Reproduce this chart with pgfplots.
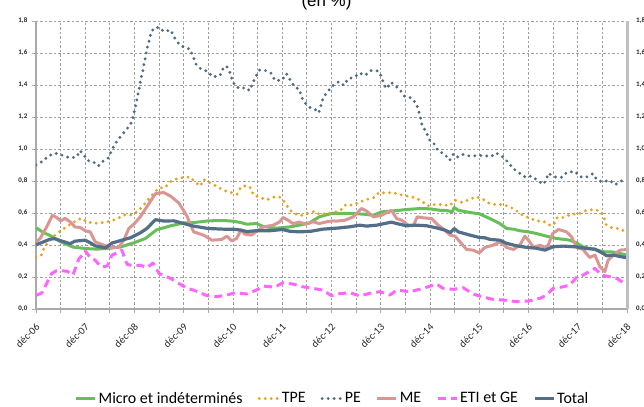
\documentclass[border=0pt]{standalone}
\usepackage{fontspec}
\setmainfont{Carlito}
\newfontfamily\arialfont{Liberation Sans}
\usepackage{pgfplots}
\pgfplotsset{compat=1.18}
\definecolor{cmicro}{RGB}{102,191,90}
\definecolor{ctpe}{RGB}{230,162,32}
\definecolor{cpe}{RGB}{76,108,132}
\definecolor{cme}{RGB}{217,150,146}
\definecolor{ceti}{RGB}{255,102,255}
\definecolor{ctotal}{RGB}{82,110,136}
\definecolor{cgrid}{RGB}{160,160,160}
\definecolor{caxis}{RGB}{170,170,170}
\begin{document}
\begin{tikzpicture}
\path[use as bounding box] (-36bp,-98bp) rectangle (608bp,309bp);
\begin{axis}[
  scale only axis, width=591bp, height=288bp,
  xmin=0, xmax=144, ymin=0, ymax=1.8,
  axis x line*=bottom, axis y line*=left,
  axis line style={-, draw=caxis, line width=1.2bp},
  xtick={0,12,...,144}, minor xtick={6,18,...,138},
  xticklabels={déc-06,déc-07,déc-08,déc-09,déc-10,déc-11,déc-12,déc-13,déc-14,déc-15,déc-16,déc-17,déc-18},
  ytick={0,0.2,0.4,0.6,0.8,1,1.2,1.4,1.6,1.8},
  yticklabels={{0,0},{0,2},{0,4},{0,6},{0,8},{1,0},{1,2},{1,4},{1,6},{1,8}},
  grid=both,
  major grid style={cgrid, line width=0.9bp, dash pattern=on 2.5bp off 2bp},
  minor grid style={cgrid, line width=0.9bp, dash pattern=on 2.5bp off 2bp},
  tick align=outside, major tick length=3.5bp, minor tick length=3.5bp,
  tick style={caxis, line width=0.8bp},
  yticklabel style={font=\bfseries\fontsize{7}{8}\selectfont, text=black!85, inner sep=0pt, xshift=-5bp},
  xticklabel style={font=\fontsize{10.5}{11}\selectfont, text=black!85, inner sep=0pt, rotate=45, anchor=east, xshift=-7.6bp, yshift=-10.5bp},
  legend style={at={(axis description cs:0.5017,-0.311)}, anchor=center, draw=none, fill=none,
     font=\fontsize{16}{18}\selectfont, legend columns=-1,
     /tikz/every even column/.append style={column sep=13bp}},
  legend image code/.code={\draw[#1] (0bp,0bp) -- (19bp,0bp);},
]
\addplot[cmicro, line width=3bp, line join=round] coordinates {
(0,0.508)(2,0.475)(3.4,0.46)(6,0.42)(9,0.387)(12,0.378)(14.8,0.374)(18,0.38)(20.5,0.387)(24,0.415)(26.6,0.44)(29.4,0.495)(32.8,0.52)(36,0.538)(38.4,0.54)(42,0.551)(45.7,0.553)(48,0.549)(50,0.54)(51.3,0.53)(53.7,0.534)(55.4,0.515)(58.6,0.505)(61.8,0.513)(64.2,0.524)(66.6,0.538)(69,0.576)(72,0.597)(74,0.598)(76.5,0.597)(79.7,0.593)(82.2,0.586)(84.2,0.607)(87,0.613)(90.3,0.622)(93.5,0.628)(96,0.626)(98.4,0.617)(99.6,0.617)(100.9,0.611)(101.3,0.603)(101.9,0.634)(102.9,0.617)(105.7,0.603)(108,0.595)(110.6,0.565)(113,0.534)(114.7,0.503)(116.3,0.499)(117.9,0.489)(120,0.482)(121.9,0.472)(124.4,0.455)(126.8,0.441)(130.1,0.43)(131.7,0.413)(133.3,0.388)(135.8,0.374)(138.2,0.358)(140.7,0.356)(142.3,0.347)(144,0.337)
};
\addlegendentry{Micro et indéterminés}
\addplot[ctpe, line width=3.2bp, line cap=round, dash pattern=on 0bp off 6bp] coordinates {
(0,0.322)(1.4,0.34)(2,0.385)(4.2,0.453)(5.8,0.484)(7.5,0.516)(9.5,0.547)(11.1,0.568)(12.5,0.543)(14.8,0.536)(16.5,0.541)(18.4,0.551)(19.8,0.565)(21.7,0.588)(23.3,0.588)(24.7,0.609)(26.1,0.645)(27.3,0.683)(28.5,0.718)(29.9,0.756)(31.5,0.76)(32.8,0.797)(34.6,0.817)(36.3,0.823)(37.6,0.825)(38.9,0.789)(40.1,0.77)(40.8,0.81)(42.2,0.791)(43.8,0.77)(45.4,0.745)(47.2,0.73)(49,0.718)(49.9,0.762)(51.3,0.772)(52.3,0.757)(53,0.713)(54.6,0.697)(56.2,0.682)(57.8,0.699)(59.4,0.699)(60.8,0.663)(61.6,0.624)(62.9,0.597)(64.5,0.584)(66.2,0.597)(67.9,0.611)(69.1,0.59)(70.7,0.597)(72.2,0.603)(74,0.612)(75.5,0.653)(77.1,0.649)(78.9,0.669)(80.5,0.684)(82.2,0.694)(83.6,0.728)(85.3,0.726)(86.9,0.728)(88.7,0.715)(90.5,0.705)(92.3,0.696)(93.9,0.676)(95.4,0.644)(97.2,0.653)(99.1,0.653)(100.7,0.644)(102.1,0.68)(103.7,0.667)(105.6,0.684)(107.2,0.701)(108.7,0.69)(110.2,0.663)(112,0.653)(113.7,0.653)(115.5,0.638)(116.9,0.617)(118.6,0.586)(120.2,0.57)(121.8,0.551)(123.6,0.549)(125.2,0.524)(126.2,0.528)(127,0.572)(128.6,0.572)(130.3,0.593)(132.1,0.593)(133.8,0.613)(135.8,0.622)(137.4,0.613)(138.4,0.572)(138.9,0.528)(140.3,0.507)(141.9,0.503)(143.8,0.482)
};
\addlegendentry{TPE}
\addplot[cpe, line width=3.2bp, line cap=round, dash pattern=on 0bp off 6bp] coordinates {
(0,0.90)(1.6,0.923)(3,0.956)(4.6,0.975)(6.3,0.962)(8.2,0.944)(9.9,0.95)(10.7,0.99)(11.5,0.97)(12.5,0.929)(14,0.919)(15.2,0.894)(16.4,0.925)(17.6,0.944)(18.4,0.988)(19.2,1.031)(20.4,1.071)(21.9,1.117)(23.1,1.158)(23.6,1.196)(24,1.24)(24.4,1.285)(24.8,1.337)(25.2,1.385)(25.5,1.435)(26,1.483)(26.3,1.529)(26.7,1.577)(27,1.625)(27.5,1.671)(27.9,1.715)(28.7,1.756)(30,1.76)(31.2,1.733)(32.8,1.744)(33.7,1.698)(34.8,1.658)(36.3,1.631)(37.5,1.625)(38.3,1.579)(38.8,1.535)(40.1,1.502)(41.8,1.485)(43.1,1.45)(44.8,1.458)(45.6,1.502)(46.4,1.519)(47.2,1.481)(47.8,1.431)(48.6,1.39)(50,1.377)(51.1,1.385)(52,1.365)(53.5,1.452)(54.5,1.494)(55.9,1.49)(57.3,1.473)(58.2,1.429)(59.9,1.429)(61,1.471)(62,1.429)(63,1.388)(64.2,1.373)(64.6,1.327)(65.7,1.285)(67,1.254)(68.3,1.244)(68.9,1.227)(69.5,1.277)(70,1.323)(71.2,1.363)(72.4,1.398)(73.8,1.421)(75,1.398)(76.1,1.44)(77.6,1.448)(78.8,1.475)(80.2,1.46)(81.5,1.49)(83.3,1.488)(84.2,1.454)(84.7,1.406)(85.4,1.377)(86.5,1.417)(87.5,1.396)(88.7,1.369)(89.8,1.329)(91.5,1.319)(92.7,1.283)(93.2,1.24)(93.7,1.194)(94.1,1.144)(95.1,1.106)(95.8,1.06)(97.1,1.029)(98,0.988)(99.6,0.967)(100.8,0.929)(101.7,0.969)(102.7,0.95)(103.9,0.967)(105.7,0.956)(107.3,0.958)(108.9,0.96)(110.8,0.952)(112.1,0.975)(113.8,0.95)(115.1,0.915)(116.3,0.877)(117.7,0.852)(119.3,0.823)(120.7,0.831)(122,0.808)(123.5,0.779)(124.3,0.804)(124.8,0.848)(126.4,0.825)(128.1,0.823)(129.4,0.856)(131.4,0.858)(132.5,0.827)(134,0.823)(135.7,0.846)(136.7,0.806)(138.1,0.794)(139.7,0.806)(141.1,0.777)(142.4,0.798)(143.6,0.813)
};
\addlegendentry{PE}
\addplot[cme, line width=3bp, line join=round] coordinates {
(0,0.42)(1,0.44)(2.6,0.513)(4,0.586)(5,0.572)(6,0.551)(7.1,0.566)(8.3,0.545)(9.5,0.513)(10.8,0.509)(12,0.489)(13.2,0.482)(14.4,0.42)(16.5,0.399)(18.1,0.385)(20.1,0.385)(21.4,0.43)(22.6,0.503)(24,0.534)(25.4,0.576)(27,0.638)(29.1,0.721)(31.1,0.728)(32.8,0.705)(34.8,0.663)(36.8,0.58)(38.4,0.482)(40.8,0.462)(42.9,0.43)(45.3,0.435)(46.5,0.455)(47.7,0.426)(48.9,0.441)(49.9,0.493)(50.9,0.468)(52.5,0.462)(54.1,0.493)(55.4,0.513)(57.8,0.524)(59.4,0.545)(60.2,0.572)(61.4,0.555)(62.6,0.534)(64.2,0.543)(65.8,0.53)(67.5,0.545)(69,0.534)(70.8,0.545)(72.4,0.551)(73.2,0.549)(75.3,0.555)(77.3,0.576)(79.3,0.628)(80.5,0.613)(82.2,0.576)(84.2,0.586)(86.6,0.617)(87.9,0.565)(89.1,0.555)(90.7,0.524)(92,0.524)(92.9,0.576)(94.4,0.57)(96.4,0.565)(98,0.524)(99.6,0.493)(100.9,0.462)(102.1,0.455)(103.3,0.42)(104.9,0.372)(106.5,0.368)(108,0.351)(109.4,0.385)(111.4,0.399)(113,0.42)(114.7,0.385)(116.3,0.372)(117.9,0.399)(119.1,0.455)(120,0.43)(121.2,0.385)(122.8,0.399)(124,0.385)(124.8,0.399)(125.9,0.472)(127.3,0.497)(129.3,0.482)(130.5,0.451)(131.7,0.385)(133.3,0.372)(134.9,0.322)(136.2,0.337)(137.4,0.264)(138.6,0.233)(139.4,0.306)(140.7,0.337)(142.3,0.368)(144,0.372)
};
\addlegendentry{ME}
\addplot[ceti, line width=3bp, line join=round, dash pattern=on 8bp off 5bp] coordinates {
(0,0.085)(1.4,0.1)(2.6,0.16)(3.8,0.222)(5,0.239)(7.5,0.237)(9,0.212)(10.4,0.31)(12,0.364)(13.4,0.316)(14.4,0.306)(15.8,0.264)(17.4,0.268)(18.5,0.337)(19.7,0.35)(20.9,0.368)(22.2,0.279)(23.8,0.27)(25.4,0.274)(27,0.258)(28.5,0.287)(30,0.222)(32.8,0.191)(34.8,0.16)(36.8,0.129)(38.4,0.118)(41.5,0.085)(44,0.077)(46.5,0.087)(48.5,0.102)(51.3,0.094)(53.7,0.118)(55.4,0.143)(58.2,0.137)(60.2,0.164)(62.6,0.156)(65,0.139)(67.5,0.129)(69.9,0.118)(72,0.083)(74,0.096)(76.5,0.102)(78.9,0.081)(81.3,0.098)(83.8,0.108)(86.2,0.087)(87.9,0.118)(91.1,0.108)(94.4,0.129)(96.8,0.15)(97.6,0.156)(99.2,0.129)(101.7,0.123)(104.1,0.133)(106.5,0.094)(108.6,0.077)(111.4,0.06)(113.8,0.056)(117.1,0.046)(120,0.05)(122.8,0.067)(124.4,0.087)(126,0.129)(128.5,0.139)(130.1,0.15)(131.7,0.198)(133.3,0.212)(135.4,0.243)(136.2,0.254)(137.8,0.212)(139.8,0.202)(141.5,0.191)(143.1,0.165)(144,0.152)
};
\addlegendentry{ETI et GE}
\addplot[ctotal, line width=3.2bp, line join=round] coordinates {
(0,0.401)(3.4,0.436)(4.5,0.44)(6,0.427)(8.3,0.408)(9.5,0.424)(12,0.43)(13.2,0.414)(14.4,0.395)(16.9,0.382)(18.5,0.412)(20.9,0.43)(23,0.445)(25.4,0.476)(27,0.503)(29.1,0.558)(31.1,0.55)(33.6,0.551)(36,0.534)(38.4,0.518)(42,0.503)(45.7,0.499)(48,0.499)(50,0.493)(51.3,0.484)(53.7,0.489)(57,0.489)(60,0.497)(61.8,0.486)(64.2,0.482)(67,0.486)(69.9,0.499)(72,0.503)(74,0.507)(76.5,0.514)(78.9,0.524)(80.5,0.518)(83,0.524)(84.2,0.53)(86.6,0.543)(87.9,0.534)(90.3,0.52)(92.7,0.524)(95.2,0.52)(97.6,0.507)(99.6,0.493)(101,0.478)(101.9,0.503)(102.9,0.482)(105.7,0.462)(108,0.447)(109.4,0.445)(110.6,0.435)(113,0.43)(114.7,0.41)(117.1,0.395)(119.5,0.385)(121.9,0.38)(124,0.368)(126,0.389)(128.5,0.393)(131.7,0.388)(134.2,0.378)(136.2,0.374)(138.2,0.347)(139,0.333)(140.7,0.337)(142.3,0.328)(144,0.32)
};
\addlegendentry{Total}
\end{axis}
\begin{axis}[
  scale only axis, width=591bp, height=288bp,
  xmin=0, xmax=144, ymin=0, ymax=1.8,
  axis x line=none, axis y line*=right,
  axis line style={-, draw=black!25, line width=3bp},
  ytick={0,0.2,0.4,0.6,0.8,1,1.2,1.4,1.6,1.8},
  yticklabels={{0,0},{0,2},{0,4},{0,6},{0,8},{1,0},{1,2},{1,4},{1,6},{1,8}},
  tick align=outside, major tick length=3bp,
  tick style={draw=none},
  yticklabel style={font=\bfseries\fontsize{7}{8}\selectfont, text=black!85, inner sep=0pt, xshift=6bp, anchor=west},
]
\addplot[draw=none] coordinates {(0,0)(144,1.8)};
\end{axis}
\node[font=\arialfont\fontsize{17}{18}\selectfont, anchor=base] at (290.5bp,302bp) {(en \%)};
\end{tikzpicture}
\end{document}
